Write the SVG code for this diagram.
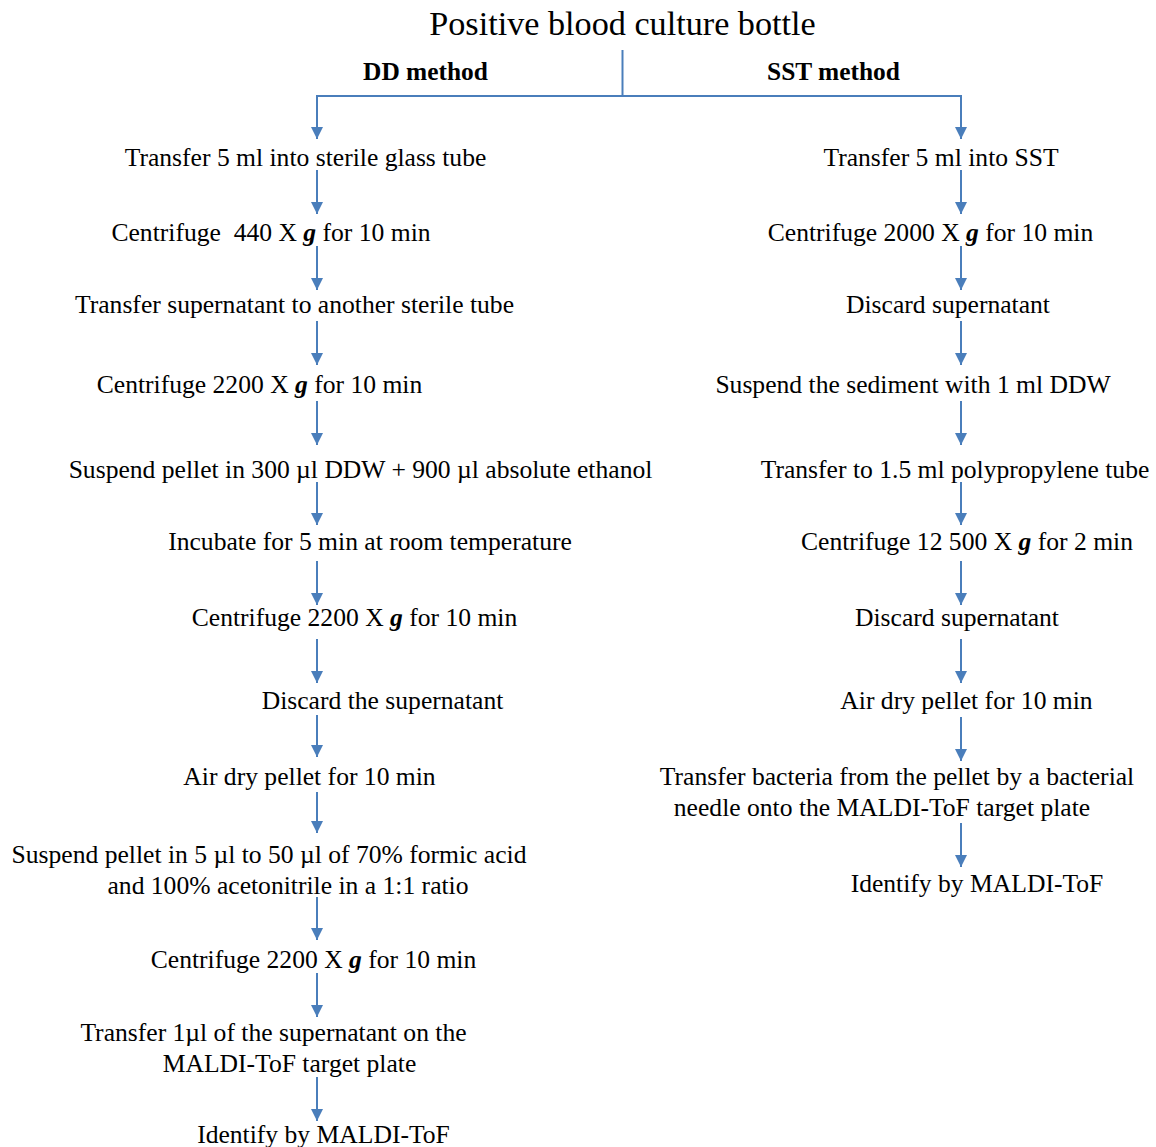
<svg xmlns="http://www.w3.org/2000/svg" width="1156" height="1147" viewBox="0 0 1156 1147">
<defs>
<style>
text{font-family:"Liberation Serif","Times New Roman",serif;font-size:25.6px;fill:#000;text-anchor:middle;white-space:pre}
.title{font-size:34.2px}
.hdr{font-weight:bold;font-size:25.4px}
.g{font-weight:bold;font-style:italic}
.conn line,.conn polyline{stroke:#4a7ebb;stroke-width:2;fill:none}
</style>
<marker id="ah" viewBox="0 0 12 12" refX="12" refY="6" markerWidth="12" markerHeight="12" markerUnits="userSpaceOnUse" orient="auto">
<path d="M0,0 L12,6 L0,12 z" fill="#4a7ebb"/>
</marker>
</defs>
<rect width="1156" height="1147" fill="#fff"/>
<g id="title"><text class="title" x="622.5" y="35">Positive blood culture bottle</text></g>
<g id="hdr-dd"><text class="hdr" x="425.5" y="80">DD method</text></g>
<g id="hdr-sst"><text class="hdr" x="833.5" y="80">SST method</text></g>
<g class="conn" id="connectors">
<line x1="622.5" y1="50" x2="622.5" y2="97"/>
<polyline points="317,96 961,96 961,139" marker-end="url(#ah)"/>
<line x1="317" y1="95" x2="317" y2="139" marker-end="url(#ah)"/>
<line x1="317" y1="170" x2="317" y2="214" marker-end="url(#ah)"/>
<line x1="317" y1="246" x2="317" y2="290" marker-end="url(#ah)"/>
<line x1="317" y1="321" x2="317" y2="365" marker-end="url(#ah)"/>
<line x1="317" y1="401" x2="317" y2="445" marker-end="url(#ah)"/>
<line x1="317" y1="482" x2="317" y2="525" marker-end="url(#ah)"/>
<line x1="317" y1="561" x2="317" y2="605" marker-end="url(#ah)"/>
<line x1="317" y1="639" x2="317" y2="683" marker-end="url(#ah)"/>
<line x1="317" y1="715" x2="317" y2="757" marker-end="url(#ah)"/>
<line x1="317" y1="792" x2="317" y2="833" marker-end="url(#ah)"/>
<line x1="317" y1="897" x2="317" y2="940" marker-end="url(#ah)"/>
<line x1="317" y1="973" x2="317" y2="1017" marker-end="url(#ah)"/>
<line x1="317" y1="1077" x2="317" y2="1121" marker-end="url(#ah)"/>
<line x1="961" y1="170" x2="961" y2="214" marker-end="url(#ah)"/>
<line x1="961" y1="246" x2="961" y2="290" marker-end="url(#ah)"/>
<line x1="961" y1="321" x2="961" y2="365" marker-end="url(#ah)"/>
<line x1="961" y1="401" x2="961" y2="445" marker-end="url(#ah)"/>
<line x1="961" y1="482" x2="961" y2="525" marker-end="url(#ah)"/>
<line x1="961" y1="561" x2="961" y2="605" marker-end="url(#ah)"/>
<line x1="961" y1="639" x2="961" y2="683" marker-end="url(#ah)"/>
<line x1="961" y1="717" x2="961" y2="761" marker-end="url(#ah)"/>
<line x1="961" y1="823" x2="961" y2="867" marker-end="url(#ah)"/>
</g>
<g id="dd1"><text x="305.5" y="166">Transfer 5 ml into sterile glass tube</text></g>
<g id="dd2"><text x="271" y="241">Centrifuge  440 X <tspan class="g">g</tspan> for 10 min</text></g>
<g id="dd3"><text x="294.5" y="313">Transfer supernatant to another sterile tube</text></g>
<g id="dd4"><text x="259.5" y="393">Centrifuge 2200 X <tspan class="g">g</tspan> for 10 min</text></g>
<g id="dd5"><text x="360.5" y="478">Suspend pellet in 300 µl DDW + 900 µl absolute ethanol</text></g>
<g id="dd6"><text x="370" y="550">Incubate for 5 min at room temperature</text></g>
<g id="dd7"><text x="354.5" y="626">Centrifuge 2200 X <tspan class="g">g</tspan> for 10 min</text></g>
<g id="dd8"><text x="382.5" y="709">Discard the supernatant</text></g>
<g id="dd9"><text x="309.5" y="785">Air dry pellet for 10 min</text></g>
<g id="dd10"><text x="269" y="863">Suspend pellet in 5 µl to 50 µl of 70% formic acid</text><text x="288" y="894">and 100% acetonitrile in a 1:1 ratio</text></g>
<g id="dd11"><text x="313.5" y="968">Centrifuge 2200 X <tspan class="g">g</tspan> for 10 min</text></g>
<g id="dd12"><text x="273.5" y="1041">Transfer 1µl of the supernatant on the</text><text x="289.5" y="1072">MALDI-ToF target plate</text></g>
<g id="dd13"><text x="323.5" y="1143">Identify by MALDI-ToF</text></g>
<g id="sst1"><text x="941" y="166">Transfer 5 ml into SST</text></g>
<g id="sst2"><text x="930.5" y="241">Centrifuge 2000 X <tspan class="g">g</tspan> for 10 min</text></g>
<g id="sst3"><text x="948" y="313">Discard supernatant</text></g>
<g id="sst4"><text x="913" y="393">Suspend the sediment with 1 ml DDW</text></g>
<g id="sst5"><text x="955" y="478">Transfer to 1.5 ml polypropylene tube</text></g>
<g id="sst6"><text x="967" y="550">Centrifuge 12 500 X <tspan class="g">g</tspan> for 2 min</text></g>
<g id="sst7"><text x="957" y="626">Discard supernatant</text></g>
<g id="sst8"><text x="966.5" y="709">Air dry pellet for 10 min</text></g>
<g id="sst9"><text x="897" y="785">Transfer bacteria from the pellet by a bacterial</text><text x="882" y="816">needle onto the MALDI-ToF target plate</text></g>
<g id="sst10"><text x="977" y="892">Identify by MALDI-ToF</text></g>
</svg>
